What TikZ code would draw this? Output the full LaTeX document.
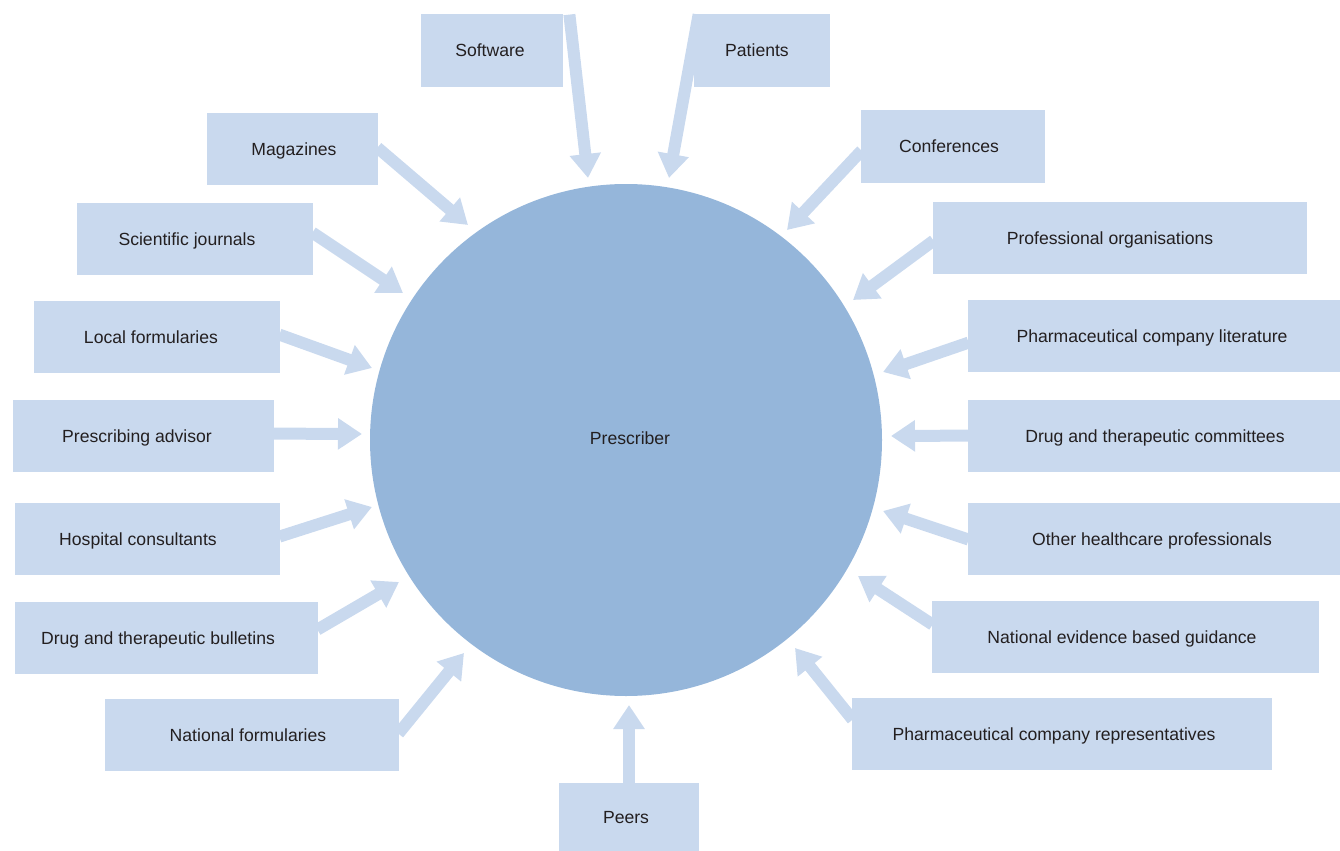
\documentclass[tikz,border=0pt]{standalone}
\usepackage{fontspec}
\setmainfont{Liberation Sans}
\usetikzlibrary{arrows.meta,calc,backgrounds}
\definecolor{boxc}{HTML}{C9D9EE}
\definecolor{circc}{HTML}{95B6DA}
\definecolor{txtc}{HTML}{231F20}
% name, x1, y1, x2, y2, text x-offset, text
\newcommand\mybox[7]{%
  \pgfmathsetmacro\cx{(#2+#4)/2}\pgfmathsetmacro\cy{(#3+#5)/2}%
  \pgfmathsetmacro\ww{(#4-#2)*0.5}\pgfmathsetmacro\hh{(#5-#3)*0.5}%
  \node[box,minimum width=\ww pt,minimum height=\hh pt] (#1) at (\cx,\cy) {};
  \node[lbl] (#1t) at ($(#1.center)+(#6,0)$) {#7};}
\begin{document}
\begin{tikzpicture}[x=0.5pt,y=-0.5pt,
  box/.style={fill=boxc,draw=none,inner sep=0pt},
  lbl/.style={inner sep=0pt,text=txtc,font=\fontsize{8.8}{10.5}\selectfont,text height=6.3pt,text depth=0pt},
  arr/.style={draw=boxc,line width=6pt,-{Triangle[width=15pt,length=12pt]}}]
\useasboundingbox (0,0) rectangle (1340,851);
\node[circle,fill=circc,minimum size=256pt,inner sep=0pt] (c) at (626,440) {};
\node[lbl] (ct) at (630,438) {Prescriber};
% boxes
\mybox{sw}{421}{14}{563}{87}{-2}{Software}
\mybox{pa}{694}{14}{830}{87}{-5}{Patients}
\mybox{mg}{207}{113}{378}{185}{1.5}{Magazines}
\mybox{cf}{861}{110}{1045}{183}{-4}{Conferences}
\mybox{sj}{77}{203}{313}{275}{-8}{Scientific journals}
\mybox{po}{933}{202}{1307}{274}{-10}{Professional organisations}
\mybox{lf}{34}{301}{280}{373}{-6}{Local formularies}
\mybox{pl}{968}{300}{1340}{372}{-2}{Pharmaceutical company literature}
\mybox{pv}{13}{400}{274}{472}{-6.5}{Prescribing advisor}
\mybox{dc}{968}{400}{1340}{472}{1}{Drug and therapeutic committees}
\mybox{hc}{15}{503}{280}{575}{-9.5}{Hospital consultants}
\mybox{oh}{968}{503}{1340}{575}{-2}{Other healthcare professionals}
\mybox{db}{15}{602}{318}{674}{-8.5}{Drug and therapeutic bulletins}
\mybox{ne}{932}{601}{1319}{673}{-3.5}{National evidence based guidance}
\mybox{nf}{105}{699}{399}{771}{-4}{National formularies}
\mybox{pr}{852}{698}{1272}{770}{-8}{Pharmaceutical company representatives}
\mybox{pe}{559}{783}{699}{851}{-3}{Peers}
% arrow tips
\coordinate (tsw) at (588,178);
\coordinate (tpa) at (669,178);
\coordinate (tmg) at (468,225);
\coordinate (tcf) at (787,230);
\coordinate (tsj) at (403,293);
\coordinate (tpo) at (853,300);
\coordinate (tlf) at (372,368);
\coordinate (tpl) at (883,372);
\coordinate (tpv) at (362,434);
\coordinate (tdc) at (891,436);
\coordinate (thc) at (372,507);
\coordinate (toh) at (883,511);
\coordinate (tdb) at (399,582);
\coordinate (tne) at (858,576);
\coordinate (tnf) at (464,653);
\coordinate (tpr) at (795,648);
\coordinate (tpe) at (629,705);
\begin{scope}[on background layer]
\draw[arr] ($(sw.north east)+(6,1)$) -- (tsw);
\draw[arr] ($(pa.north west)+(5,1)$) -- (tpa);
\draw[arr] ($(mg.north east)+(-1,35)$) -- (tmg);
\draw[arr] ($(cf.north west)+(1,41)$) -- (tcf);
\draw[arr] ($(sj.north east)+(-1,30)$) -- (tsj);
\draw[arr] ($(po.north west)+(1,39)$) -- (tpo);
\draw[arr] ($(lf.north east)+(-1,34)$) -- (tlf);
\draw[arr] ($(pl.north west)+(1,43)$) -- (tpl);
\draw[arr] ($(pv.north east)+(-1,34)$) -- (tpv);
\draw[arr] ($(dc.north west)+(1,36)$) -- (tdc);
\draw[arr] ($(hc.north east)+(-1,34)$) -- (thc);
\draw[arr] ($(oh.north west)+(1,37)$) -- (toh);
\draw[arr] ($(db.north east)+(-1,28)$) -- (tdb);
\draw[arr] ($(ne.north west)+(1,24)$) -- (tne);
\draw[arr] ($(nf.north east)+(-1,35)$) -- (tnf);
\draw[arr] ($(pr.north west)+(1,22)$) -- (tpr);
\draw[arr] ($(pe.north)+(0,1)$) -- (tpe);
\end{scope}
\end{tikzpicture}
\end{document}
